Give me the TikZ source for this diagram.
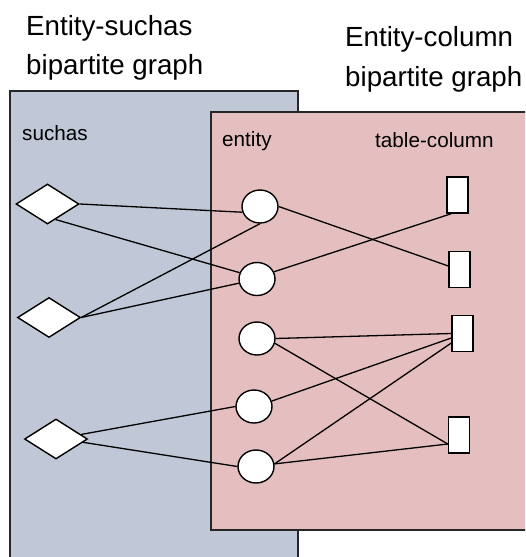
\documentclass[tikz,border=0pt]{standalone}
\usepackage{fontspec}
\setmainfont{Liberation Sans}
\usetikzlibrary{shapes.geometric,calc}
\definecolor{bluebg}{RGB}{192,199,214}
\definecolor{pinkbg}{RGB}{229,190,191}
\tikzset{
  titletext/.style={anchor=base west,inner sep=0pt,font=\fontsize{27.7}{33}\selectfont},
  labeltext/.style={anchor=base west,inner sep=0pt,font=\fontsize{20.7}{25}\selectfont},
  suchasnode/.style={diamond,draw=black,fill=white,line width=1.4pt,inner sep=0pt,minimum width=63pt,minimum height=40pt},
  entitynode/.style={ellipse,draw=black,fill=white,line width=1.4pt,inner sep=0pt,minimum width=36pt,minimum height=33pt},
  columnnode/.style={rectangle,draw=black,fill=white,line width=1.4pt,inner sep=0pt,minimum width=21pt,minimum height=36pt},
  link/.style={draw=black,line width=1.3pt},
  panel/.style={draw=black!85,line width=1.3pt}
}
\begin{document}
\begin{tikzpicture}[x=1pt,y=-1pt]
\useasboundingbox (0,0) rectangle (525,557);
\clip (0,0) rectangle (525,557);
% panels
\path[panel,fill=bluebg] (10,91) rectangle (298,570);
\path[panel,fill=pinkbg] (211,112) rectangle (540,530);
% titles
\node[titletext] (t1a) at (26,35) {Entity-suchas};
\node[titletext] (t1b) at (26,74) {bipartite graph};
\node[titletext] (t2a) at (345,46) {Entity-column};
\node[titletext] (t2b) at (345,86) {bipartite graph};
% labels
\node[labeltext] (lsuchas) at (22,140) {suchas};
\node[labeltext] (lentity) at (222,146) {entity};
\node[labeltext] (lcolumn) at (375,147) {table-column};
% nodes
\node[suchasnode] (d1) at (47.5,204) {};
\node[suchasnode] (d2) at (49,317.5) {};
\node[suchasnode] (d3) at (56,439) {};
\node[entitynode] (c1) at (260,206.5) {};
\node[entitynode] (c2) at (257,279) {};
\node[entitynode] (c3) at (257,338.5) {};
\node[entitynode] (c4) at (254,406.5) {};
\node[entitynode] (c5) at (256,466.5) {};
\node[columnnode] (r1) at (457.5,195) {};
\node[columnnode] (r2) at (459.5,269.5) {};
\node[columnnode] (r3) at (462.5,333.5) {};
\node[columnnode] (r4) at (459,435) {};
% suchas - entity links
\draw[link] (d1.east) -- (c1.198);
\draw[link] ($(d1.south)!0.25!(d1.east)$) -- (c2.160);
\draw[link] (d2.east) -- (c1.south);
\draw[link] (d2.east) -- (c2.193);
\draw[link] ($(d3.east)!0.22!(d3.north)$) -- (c4.west);
\draw[link] ($(d3.east)!0.16!(d3.south)$) -- (c5.west);
% entity - column links
\draw[link] (c1.east) -- ($(r2.west)+(0,-3.5)$);
\draw[link] (c2.23) -- ($(r1.south west)+(5,0)$);
\draw[link] (c3.east) -- (r3.west);
\draw[link] (c3.-15) -- ($(r4.west)+(0,9)$);
\draw[link] (c4.17) -- ($(r3.west)+(0,4.5)$);
\draw[link] (c5.8) -- ($(r3.west)+(0,9.5)$);
\draw[link] (c5.8) -- ($(r4.west)+(0,9)$);
\end{tikzpicture}
\end{document}
